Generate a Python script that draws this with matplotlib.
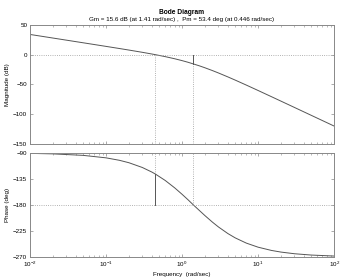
import matplotlib
matplotlib.use('Agg')
import matplotlib.pyplot as plt
import numpy as np

# values
freq = [0.01, 0.02, 0.05, 0.1, 0.15, 0.2, 0.3, 0.4, 0.446, 0.6, 0.8, 1.0,
        1.2, 1.41, 1.7, 2.0, 2.5, 3.0, 4.0, 5.0, 7.0, 10.0, 15.0, 20.0,
        30.0, 50.0, 100.0]
mag_db = [33.98, 27.96, 19.99, 13.93, 10.34, 7.75, 3.97, 1.12, 0.0, -3.29,
          -6.88, -10.0, -12.81, -15.6, -18.89, -22.04, -26.67, -30.68,
          -37.36, -42.75, -51.13, -60.21, -70.66, -78.12, -88.65, -101.95,
          -120.0]
phase_deg = [-90.86, -91.72, -94.29, -98.57, -102.82, -107.02, -115.23,
             -123.11, -126.6, -137.66, -150.46, -161.57, -171.15, -180.0,
             -189.89, -198.43, -209.54, -217.88, -229.39, -236.89, -245.92,
             -252.98, -258.6, -261.43, -264.28, -266.56, -268.28]

gm_db, gm_freq = 15.6, 1.41
pm_deg, pm_freq = 53.4, 0.446

mag_ticks = [50, 0, -50, -100, -150]
phase_ticks = [-90, -135, -180, -225, -270]

plt.rcParams['font.family'] = ['Liberation Sans', 'DejaVu Sans']
plt.rcParams['font.size'] = 4.5

fig = plt.figure(figsize=(3.5, 2.8), dpi=100)
ax1 = fig.add_axes([0.0857, 0.486, 0.869, 0.425])
ax2 = fig.add_axes([0.0857, 0.082, 0.869, 0.372])

curve = '#555555'
grid = '#999999'
frame = '#888888'

# magnitude
ax1.semilogx(freq, mag_db, color=curve, linewidth=0.7)
ax1.axhline(0, color=grid, linestyle=':', linewidth=0.6)
ax1.plot([pm_freq, pm_freq], [-150, 0], color=grid, linestyle=':', linewidth=0.6)
ax1.plot([gm_freq, gm_freq], [-150, -gm_db], color=grid, linestyle=':', linewidth=0.6)
ax1.plot([gm_freq, gm_freq], [-gm_db, 0], color=curve, linewidth=0.7)
ax1.set_ylim(-150, 50)
ax1.set_yticks(mag_ticks)
ax1.set_ylabel('Magnitude (dB)', labelpad=2)
ax1.set_xticklabels([])

# phase
ax2.semilogx(freq, phase_deg, color=curve, linewidth=0.7)
ax2.axhline(-180, color=grid, linestyle=':', linewidth=0.6)
ax2.plot([gm_freq, gm_freq], [-180, -90], color=grid, linestyle=':', linewidth=0.6)
ax2.plot([pm_freq, pm_freq], [-180 + pm_deg, -90], color=grid, linestyle=':', linewidth=0.6)
ax2.plot([pm_freq, pm_freq], [-180, -180 + pm_deg], color=curve, linewidth=0.7)
ax2.set_ylim(-270, -90)
ax2.set_yticks(phase_ticks)
ax2.set_ylabel('Phase (deg)', labelpad=2)
ax2.set_xlabel('Frequency  (rad/sec)', labelpad=2)

for ax in (ax1, ax2):
    ax.set_xlim(0.01, 100)
    ax.tick_params(which='both', direction='in', top=True, right=True,
                   color=frame, labelsize=4.5, pad=2)
    ax.tick_params(which='major', length=2.5, width=0.5)
    ax.tick_params(which='minor', length=1.5, width=0.4)
    for s in ax.spines.values():
        s.set_color(frame)
        s.set_linewidth(0.7)
ax1.tick_params(which='both', labelbottom=False)

fig.text(0.52, 0.955, 'Bode Diagram', ha='center', va='center',
         fontsize=4.8, fontweight='bold')
fig.text(0.52, 0.93, 'Gm = 15.6 dB (at 1.41 rad/sec) ,  Pm = 53.4 deg (at 0.446 rad/sec)',
         ha='center', va='center', fontsize=4.5)

fig.savefig('out.png', dpi=100)
